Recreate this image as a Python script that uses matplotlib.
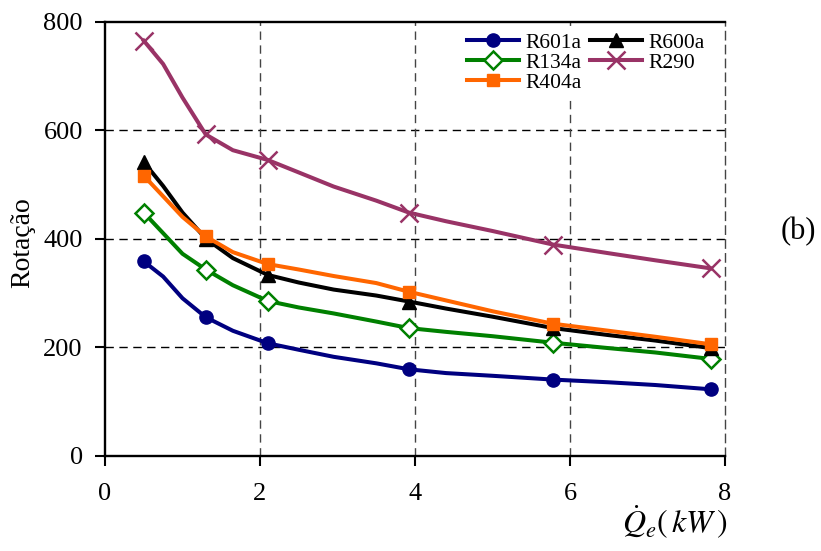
import matplotlib
matplotlib.use("Agg")
import matplotlib.pyplot as plt

plt.rcParams['font.family'] = 'serif'
plt.rcParams['font.serif'] = ['Liberation Serif', 'DejaVu Serif']
plt.rcParams['mathtext.fontset'] = 'stix'

# Line sample positions (kW) and marker indices
x_line = [0.5, 0.75, 1.0, 1.3, 1.65, 2.1, 2.5, 2.95, 3.5, 3.92, 4.4, 5.0, 5.78, 6.5, 7.1, 7.82]
marker_idx = [0, 3, 5, 9, 12, 15]

r601a = [358, 330, 290, 255, 230, 207, 195, 182, 170, 159, 152, 147, 140, 135, 130, 122]
r134a = [448, 410, 372, 343, 314, 285, 273, 262, 247, 235, 228, 220, 208, 198, 190, 178]
r404a = [516, 478, 440, 404, 375, 353, 343, 331, 318, 302, 286, 266, 243, 230, 219, 205]
r600a = [541, 497, 448, 400, 364, 333, 319, 306, 295, 284, 271, 256, 235, 222, 212, 198]
r290 = [765, 722, 660, 592, 563, 545, 522, 496, 470, 448, 432, 414, 389, 373, 360, 345]

series_names = ['R601a', 'R134a', 'R404a', 'R600a', 'R290']

fig = plt.figure(figsize=(8.21, 5.51), dpi=100)
ax = fig.add_axes([105/821, (551-455.5)/551, 620/821, 433.8/551])

lw = 2.9
ax.plot(x_line, r601a, color='#000080', lw=lw, marker='o', ms=9.5, markevery=marker_idx, label=series_names[0], zorder=5)
ax.plot(x_line, r134a, color='#008000', lw=lw, marker='D', ms=9, mfc='white', mec='#008000', mew=1.8,
        markevery=marker_idx, label=series_names[1], zorder=5)
ax.plot(x_line, r404a, color='#FF6600', lw=lw, marker='s', ms=9, markevery=marker_idx, label=series_names[2], zorder=6)
ax.plot(x_line, r600a, color='black', lw=lw, marker='^', ms=10, markevery=marker_idx, label=series_names[3], zorder=5)
ax.plot(x_line, r290, color='#993366', lw=lw, marker='x', ms=13, mew=1.8, markevery=marker_idx, label=series_names[4], zorder=5)

ax.set_xlim(0, 8)
ax.set_ylim(0, 800)
ax.set_xticks([0, 2, 4, 6, 8])
ax.set_yticks([0, 200, 400, 600, 800])

for yv in [200, 400, 600]:
    ax.axhline(yv, color='black', lw=1.0, ls=(0, (6, 4)), zorder=1)
for xv in [2, 4, 6]:
    ax.axvline(xv, color='#444444', lw=1.0, ls=(0, (6, 4)), zorder=1)

for s in ['left', 'bottom', 'top']:
    ax.spines[s].set_linewidth(1.7)
    ax.spines[s].set_color('black')
ax.spines['right'].set_linestyle((0, (6, 4)))
ax.spines['right'].set_color('#444444')
ax.spines['right'].set_linewidth(1.0)

ax.tick_params(axis='both', direction='out', length=7, width=1.5, labelsize=19)
ax.tick_params(axis='x', pad=13)
ax.tick_params(axis='y', pad=9)

ax.set_ylabel('Rotação', fontsize=20)
ax.yaxis.set_label_coords(-0.112, 0.49)

fig.text(727/821, (551-533)/551, r'$\dot{Q}_e(\,kW\,)$', ha='right', va='baseline', fontsize=23)
fig.text(798/821, (551-232)/551, '(b)', ha='center', va='center', fontsize=22)

leg = ax.legend(ncol=2, loc='upper left', bbox_to_anchor=(0.57, 0.995), fontsize=15.5,
                frameon=True, fancybox=False, edgecolor='none', facecolor='white', framealpha=1,
                handlelength=2.4, handletextpad=0.3, columnspacing=0.4, labelspacing=0.0,
                borderpad=0.2, borderaxespad=0.2)
leg.set_zorder(10)

fig.savefig('out.png', dpi=100)
